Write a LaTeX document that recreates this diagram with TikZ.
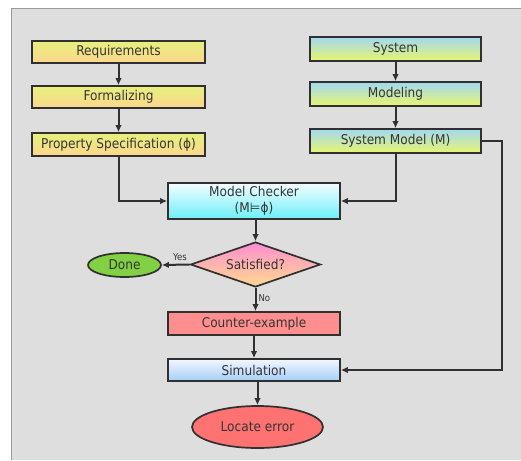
\documentclass[tikz,border=0pt]{standalone}
\usepackage{fontspec}
\setmainfont{DejaVu Sans}[FakeStretch=0.9]
\usetikzlibrary{shapes.geometric,arrows.meta}
\definecolor{bgc}{HTML}{DEDEDE}
\definecolor{bordc}{HTML}{9A9A9A}
\definecolor{linec}{HTML}{303030}
\definecolor{txtc}{HTML}{353535}
\definecolor{lefttop}{HTML}{E6F07C}
\definecolor{leftbot}{HTML}{FDD68E}
\definecolor{righttop}{HTML}{A2D8F2}
\definecolor{rightbot}{HTML}{E8F66E}
\definecolor{mctop}{HTML}{F4FDFF}
\definecolor{mcbot}{HTML}{6CEFF8}
\definecolor{cec}{HTML}{FF8F8F}
\definecolor{simtop}{HTML}{F2F8FF}
\definecolor{simbot}{HTML}{A6CEF8}
\definecolor{sattop}{HTML}{FF8ED2}
\definecolor{satbot}{HTML}{FFDA8C}
\definecolor{donec}{HTML}{82D044}
\definecolor{locc}{HTML}{FF7272}
\tikzset{
  base/.style={draw=linec, line width=1.7pt, text=txtc, font=\fontsize{13.5}{16}\selectfont, inner sep=0pt},
  leftbox/.style={base, rectangle, minimum width=173pt, top color=lefttop, bottom color=leftbot},
  rightbox/.style={base, rectangle, minimum width=171pt, minimum height=24pt, top color=righttop, bottom color=rightbot},
  conn/.style={draw=linec, line width=2pt, -{Latex[length=7pt,width=6.5pt]}},
  lbl/.style={text=txtc, font=\fontsize{9.5}{11}\selectfont, inner sep=1pt}
}
\begin{document}
\begin{tikzpicture}[x=1pt,y=-1pt]
\useasboundingbox (0,0) rectangle (521,460);
\fill[bgc] (11,8) rectangle (521,460);
\draw[bordc, line width=1.4pt] (11.5,460) -- (11.5,8.5) -- (521,8.5);

\node[leftbox, minimum height=22pt] (req) at (118.5,52) {Requirements};
\node[leftbox, minimum height=22pt] (form) at (118.5,97) {Formalizing};
\node[leftbox, minimum height=23pt] (prop) at (118.5,144.5) {Property Specification (ϕ)};

\node[rightbox] (sys) at (395.5,49) {System};
\node[rightbox] (modl) at (395.5,94) {Modeling};
\node[rightbox] (sysm) at (395.5,141) {System Model (M)};

\node[base, rectangle, minimum width=172pt, minimum height=36pt, align=center,
      top color=mctop, bottom color=mcbot] (mc) at (254,201) {Model Checker\\[0pt](M⊨ϕ)};

\node[base, diamond, aspect=2.9, minimum width=130pt, minimum height=45pt,
      top color=sattop, bottom color=satbot] (sat) at (255.5,264.5) {Satisfied?};

\node[base, ellipse, minimum width=73pt, minimum height=24pt, fill=donec] (done) at (124.5,265) {Done};

\node[base, rectangle, minimum width=172pt, minimum height=23pt, fill=cec] (ce) at (254,323.5) {Counter-example};

\node[base, rectangle, minimum width=172pt, minimum height=22pt,
      top color=simtop, bottom color=simbot] (sim) at (254,370) {Simulation};

\node[base, ellipse, minimum width=131pt, minimum height=42pt, fill=locc] (loc) at (257.5,427) {Locate error};

\coordinate (rc) at (502,141);

\draw[conn] (req) -- (form);
\draw[conn] (form) -- (prop);
\draw[conn] (sys) -- (modl);
\draw[conn] (modl) -- (sysm);
\draw[conn] (prop.south) |- (mc.west);
\draw[conn] (sysm.south) |- (mc.east);
\draw[conn] (mc.south -| sat.north) -- (sat.north);
\draw[conn] (sat.west) -- node[lbl, above, pos=0.35, yshift=2pt] {Yes} (done.east);
\draw[conn] (sat.south) -- node[lbl, right, pos=0.45, xshift=1pt] {No} (sat.south |- ce.north);
\draw[conn] (ce) -- (sim);
\draw[conn] (sim.south -| loc.north) -- (loc.north);
\draw[conn] (sysm.east) -- (rc) |- (sim.east);
\end{tikzpicture}
\end{document}
